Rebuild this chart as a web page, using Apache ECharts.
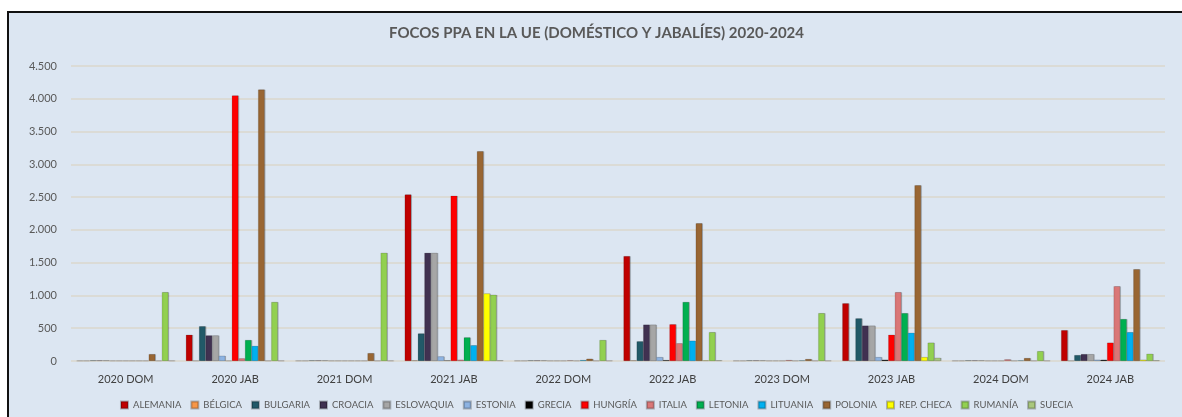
<!DOCTYPE html>
<html>
<head>
<meta charset="utf-8">
<script src="https://cdn.jsdelivr.net/npm/echarts@6/dist/echarts.min.js"></script>
<style>
  html, body { margin: 0; padding: 0; background: #ffffff; }
  #frame {
    position: absolute; left: 7px; top: 11px;
    width: 1175px; height: 406px;
    border-top: 2px solid #111; border-left: 2px solid #111;
    background: #dce6f2;
  }
  #main { width: 1175px; height: 406px; }
</style>
</head>
<body>
<div id="frame"><div id="main"></div></div>
<script>
// categorías y países
const categories = ["2020 DOM", "2020 JAB", "2021 DOM", "2021 JAB", "2022 DOM",
  "2022 JAB", "2023 DOM", "2023 JAB", "2024 DOM", "2024 JAB"];
const countries = ["ALEMANIA", "BÉLGICA", "BULGARIA", "CROACIA", "ESLOVAQUIA", "ESTONIA",
  "GRECIA", "HUNGRÍA", "ITALIA", "LETONIA", "LITUANIA", "POLONIA", "REP. CHECA", "RUMANÍA", "SUECIA"];
const colors = ["#c00000", "#f79646", "#215968", "#403151", "#a6a6a6", "#8db3e2", "#000000",
  "#ff0000", "#da7777", "#00b050", "#00b0f0", "#996633", "#ffff00", "#92d050", "#a9c77d"];

// valores por país (en el orden de categories)
const alemania   = [5, 400, 5, 2540, 5, 1600, 5, 880, 5, 470];
const belgica    = [5, 5, 5, 10, 5, 10, 5, 5, 5, 5];
const bulgaria   = [10, 530, 10, 420, 10, 300, 10, 650, 10, 90];
const croacia    = [10, 390, 10, 1650, 10, 555, 10, 540, 10, 105];
const eslovaquia = [10, 390, 10, 1650, 10, 555, 10, 540, 10, 105];
const estonia    = [5, 80, 5, 70, 5, 60, 5, 60, 5, 20];
const grecia     = [5, 5, 5, 10, 5, 15, 5, 20, 5, 20];
const hungria    = [5, 4050, 5, 2520, 5, 560, 5, 400, 5, 280];
const italia     = [5, 40, 5, 20, 10, 270, 15, 1050, 25, 1140];
const letonia    = [5, 320, 5, 360, 5, 900, 5, 730, 5, 640];
const lituania   = [5, 230, 5, 240, 15, 310, 10, 430, 10, 440];
const polonia    = [105, 4140, 120, 3200, 35, 2100, 30, 2680, 45, 1400];
const repCheca   = [5, 5, 5, 1030, 5, 10, 5, 60, 5, 20];
const rumania    = [1050, 900, 1650, 1010, 320, 440, 730, 280, 150, 110];
const suecia     = [5, 5, 5, 10, 5, 10, 5, 50, 5, 10];

const values = [alemania, belgica, bulgaria, croacia, eslovaquia, estonia, grecia, hungria,
  italia, letonia, lituania, polonia, repCheca, rumania, suecia];

const font = "Lato, 'Open Sans', sans-serif";
const chart = echarts.init(document.getElementById("main"));
chart.setOption({
  animation: false,
  textStyle: { fontFamily: font },
  title: {
    text: "FOCOS PPA EN LA UE (DOMÉSTICO Y JABALÍES) 2020-2024",
    left: "center", top: 8,
    textStyle: { fontSize: 15, fontWeight: "bold", color: "#595959", fontFamily: font }
  },
  legend: {
    bottom: 4, left: "center",
    itemWidth: 7, itemHeight: 7, itemGap: 9, icon: "rect",
    textStyle: { fontSize: 9.5, color: "#595959", fontFamily: font },
    data: countries
  },
  grid: { left: 62, right: 19, top: 53, bottom: 58 },
  xAxis: {
    type: "category",
    data: categories,
    axisLine: { show: false },
    axisTick: { show: false },
    axisLabel: { fontSize: 11, color: "#404040", margin: 13 }
  },
  yAxis: {
    type: "value",
    min: 0, max: 4500, interval: 500,
    axisLabel: {
      fontSize: 11, color: "#595959", margin: 14,
      formatter: (v) => v.toLocaleString("de-DE")
    },
    splitLine: { lineStyle: { color: "#dbd7cc", width: 1.5 } }
  },
  series: countries.map((name, i) => ({
    name: name,
    type: "bar",
    data: values[i],
    barGap: "0%",
    barCategoryGap: "10%",
    itemStyle: {
      color: colors[i],
      borderColor: "rgba(0,0,0,0.25)",
      borderWidth: 0.5,
      shadowColor: "rgba(0,0,0,0.25)",
      shadowOffsetX: 1
    }
  }))
});
</script>
</body>
</html>
